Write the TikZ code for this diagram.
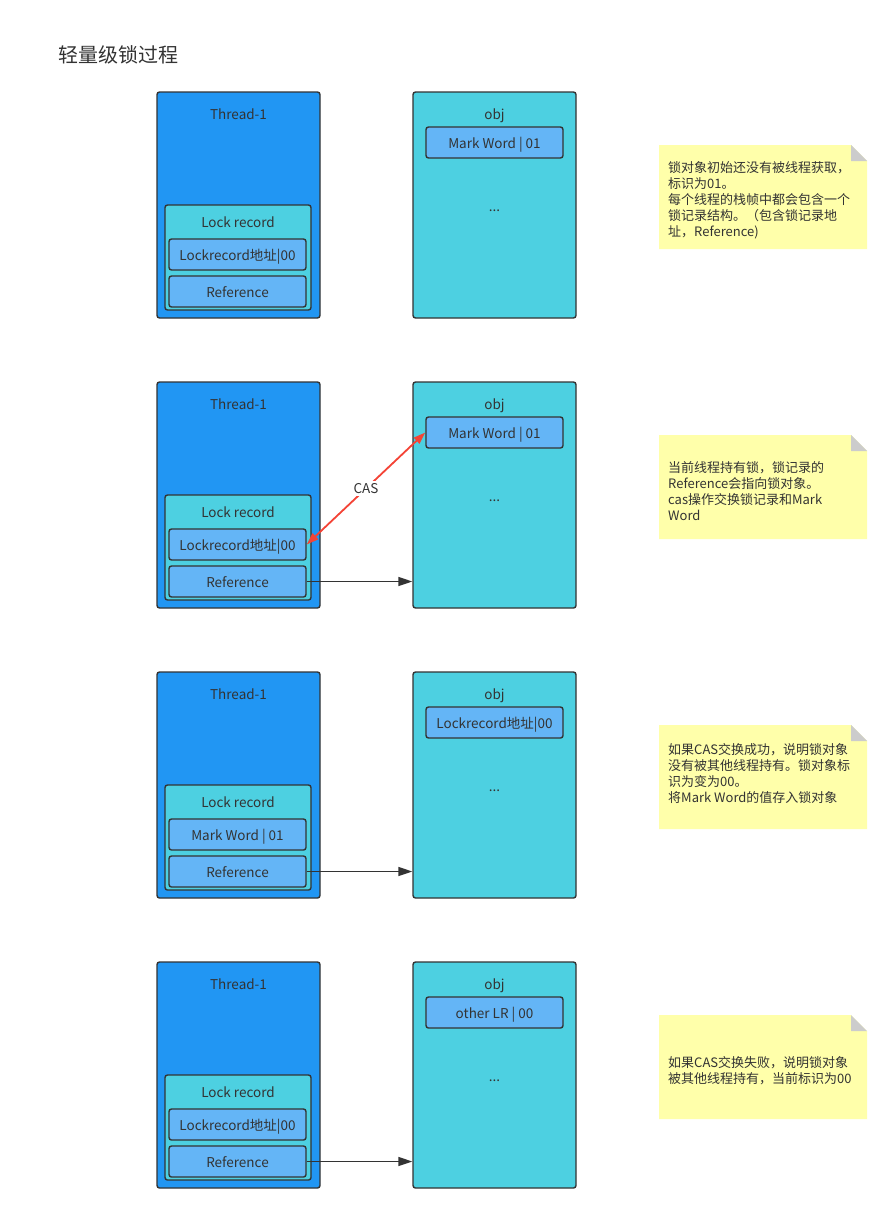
\documentclass[tikz,border=0pt]{standalone}
\usepackage{fontspec}
\setmainfont{Noto Sans CJK SC}
\usetikzlibrary{arrows.meta}
\definecolor{tblue}{HTML}{2196F3}
\definecolor{cyanb}{HTML}{4DD0E1}
\definecolor{lblue}{HTML}{64B5F6}
\definecolor{bord}{HTML}{333333}
\definecolor{txt}{HTML}{333333}
\definecolor{notey}{HTML}{FFFFAA}
\definecolor{foldc}{HTML}{CCCCCC}
\definecolor{casred}{HTML}{F44336}
\newcommand\lkrow[4]{%
 \node[box, fill=tblue, minimum width=163pt, minimum height=226pt] (th#1) at (238.5,{205+#2}) {};
 \node[lbl] (tt#1) at (238.5,{114.5+#2}) {Thread-1};
 \node[box, fill=cyanb, minimum width=146pt, minimum height=105pt] (lr#1) at (238,{257.5+#2}) {};
 \node[lbl] (lt#1) at (238,{222.5+#2}) {Lock record};
 \node[innerbox] (lw#1) at (237.5,{254.5+#2}) {#3};
 \node[innerbox] (rf#1) at (237.5,{291.5+#2}) {Reference};
 \node[box, fill=cyanb, minimum width=163pt, minimum height=226pt] (ob#1) at (494.5,{205+#2}) {};
 \node[lbl] (ot#1) at (494.5,{115.5+#2}) {obj};
 \node[innerbox] (mw#1) at (494.5,{142.5+#2}) {#4};
 \node[lbl] (dt#1) at (494.5,{211+#2}) {...};
 \fill[notey] (659,{145+#2}) -- (851,{145+#2}) -- (867,{161+#2}) -- (867,{249+#2}) -- (659,{249+#2}) -- cycle;
 \fill[foldc] (851,{145+#2}) -- (867,{161+#2}) -- (851,{161+#2}) -- cycle;
}
\begin{document}
\begin{tikzpicture}[x=1pt,y=-1pt,
 box/.style={draw=bord, line width=1.4pt, rounded corners=2.5pt, inner sep=0pt},
 innerbox/.style={box, fill=lblue, minimum width=137pt, minimum height=31pt, text=txt, text height=14pt, text depth=2pt, font=\fontsize{13.5}{15}\selectfont},
 lbl/.style={text=txt, font=\fontsize{13.5}{15}\selectfont, inner sep=0pt},
 notetext/.style={text=txt, font=\fontsize{13}{16}\selectfont, align=left, anchor=west, inner sep=0pt},
 blk/.style={draw=bord, line width=1.5pt, -{Triangle[length=14pt,width=9pt]}},
 casarr/.style={draw=casred, line width=1.8pt, {Triangle[length=12pt,width=8pt]}-{Triangle[length=12pt,width=8pt]}}]
\useasboundingbox (0,0) rectangle (892,1215);
\fill[white] (0,0) rectangle (892,1215);
\node[anchor=west, text=txt, font=\fontsize{20}{22}\selectfont, inner sep=0pt] (title) at (58,55) {轻量级锁过程};

\lkrow{1}{0}{Lockrecord地址|00}{Mark Word | 01}
\lkrow{2}{290}{Lockrecord地址|00}{Mark Word | 01}
\lkrow{3}{580}{Mark Word | 01}{Lockrecord地址|00}
\lkrow{4}{870}{Lockrecord地址|00}{other LR | 00}

\draw[blk] (rf2.east) -- (rf2.east -| ob2.west);
\draw[blk] (rf3.east) -- (rf3.east -| ob3.west);
\draw[blk] (rf4.east) -- (rf4.east -| ob4.west);
\draw[casarr] (lw2.east) -- (mw2.west) node[midway, fill=white, text=txt, font=\fontsize{13.5}{15}\selectfont, inner sep=2pt] (cas) {CAS};

\node[notetext] (n1) at (668,200) {锁对象初始还没有被线程获取，\\标识为01。\\每个线程的栈帧中都会包含一个\\锁记录结构。（包含锁记录地\\址，Reference)};
\node[notetext] (n2) at (668,491) {当前线程持有锁，锁记录的\\Reference会指向锁对象。\\cas操作交换锁记录和Mark\\Word};
\node[notetext] (n3) at (668,773.5) {如果CAS交换成功，说明锁对象\\没有被其他线程持有。锁对象标\\识为变为00。\\将Mark Word的值存入锁对象};
\node[notetext] (n4) at (668,1071) {如果CAS交换失败，说明锁对象\\被其他线程持有，当前标识为00};
\end{tikzpicture}
\end{document}
